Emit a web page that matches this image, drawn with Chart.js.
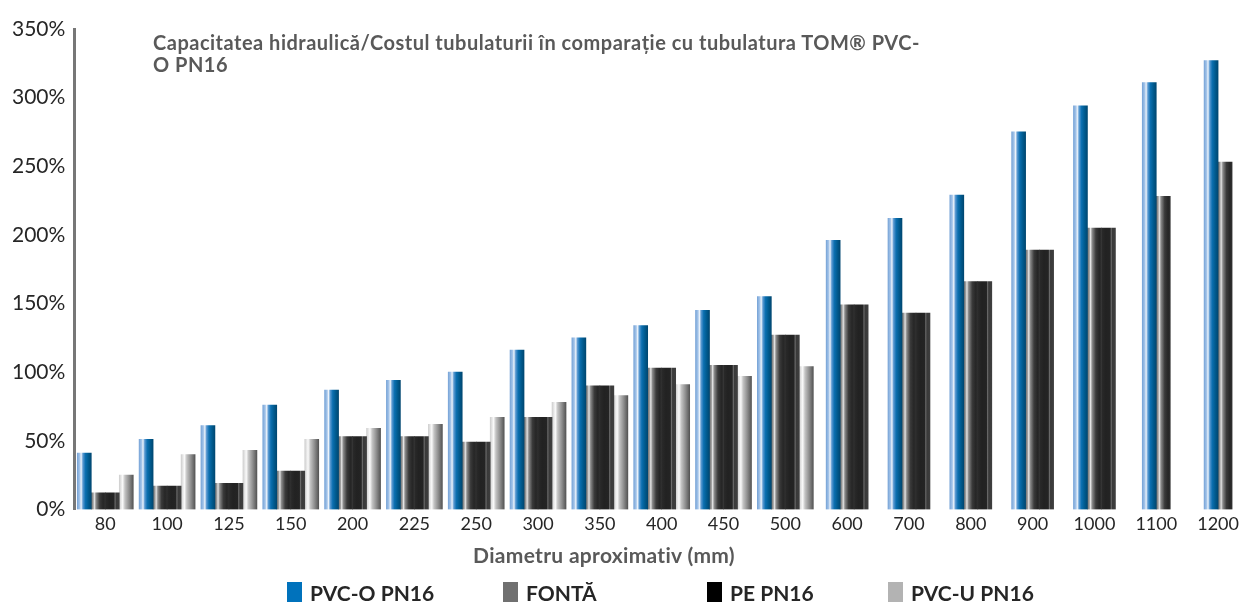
<!DOCTYPE html>
<html>
<head>
<meta charset="utf-8">
<script src="https://cdn.jsdelivr.net/npm/chart.js@4"></script>
<style>
  html, body { margin: 0; padding: 0; background: #fff; }
  #wrap { position: relative; width: 1251px; height: 602px; font-family: Lato, sans-serif; }
  #title {
    position: absolute; left: 153px; top: 31px;
    font-weight: bold; font-size: 20px; line-height: 22px; letter-spacing: 0.5px; color: #595959;
    white-space: nowrap;
  }
  #xtitle {
    position: absolute; left: 404px; width: 400px; top: 543px; text-align: center;
    font-weight: bold; font-size: 21px; line-height: 24px; letter-spacing: 0.3px; color: #595959;
  }
  #legend { position: absolute; left: 287px; top: 580px; display: flex; }
  .item { display: flex; align-items: center; font-weight: bold; font-size: 21px; color: #262626; }
  .item:nth-child(1) { width: 216px; }
  .item:nth-child(2) { width: 204px; }
  .item:nth-child(3) { width: 181px; }
  .box { width: 15px; height: 21px; margin-right: 8px; }
</style>
</head>
<body>
<div id="wrap">
  <canvas id="chart" width="1251" height="602"></canvas>
  <div id="title">Capacitatea hidraulică/Costul tubulaturii în comparație cu tubulatura TOM® PVC-<br>O PN16</div>
  <div id="xtitle">Diametru aproximativ (mm)</div>
  <div id="legend"></div>
</div>
<script>
// Diametru aproximativ (mm)
const categories = ['80', '100', '125', '150', '200', '225', '250', '300', '350', '400',
  '450', '500', '600', '700', '800', '900', '1000', '1100', '1200'];

// values in %
const pvcO = [41, 51, 61, 76, 87, 94, 100, 116, 125, 134, 145, 155, 196, 212, 229, 275, 294, 311, 327];
const fonta = [12, 17, 19, 28, 53, 53, 49, 67, 90, 103, 105, 127, 149, 143, 166, 189, 205, 228, 253];
const pePn16 = [12, 17, 19, 28, 53, 53, 49, 67, 90, 103, 105, 127, 149, 143, 166, 189, 205, null, null];
const pvcU = [25, 40, 43, 51, 59, 62, 67, 78, 83, 91, 97, 104, null, null, null, null, null, null, null];

const seriesNames = ['PVC-O PN16', 'FONTĂ', 'PE PN16', 'PVC-U PN16'];
const yTicks = [0, 50, 100, 150, 200, 250, 300, 350];

// flat colours for the legend, cylinder-like shading for the bars
const legendColors = ['#0072bc', '#707070', '#000000', '#b3b3b3'];
const shading = [
  [[0, '#79a5d8'], [0.18, '#a6c6ea'], [0.28, '#eef4fb'], [0.4, '#5c9ad2'], [0.58, '#0b6fb0'], [0.8, '#005a8e'], [1, '#004771']],
  [[0, '#6a6a6a'], [0.14, '#a0a0a0'], [0.22, '#e6e6e6'], [0.34, '#8a8a8a'], [0.6, '#3a3a3a'], [0.85, '#262626'], [1, '#303030']],
  [[0, '#2a2a2a'], [0.3, '#222222'], [0.62, '#242424'], [0.7, '#6c6c6c'], [0.78, '#3a3a3a'], [1, '#3e3e3e']],
  [[0, '#cfcfcf'], [0.14, '#e8e8e8'], [0.24, '#fafafa'], [0.4, '#c4c4c4'], [0.7, '#8e8e8e'], [1, '#555555']]
];

const barShading = {
  id: 'barShading',
  beforeDatasetsDraw(chart) {
    const ctx = chart.ctx;
    chart.data.datasets.forEach((ds, i) => {
      chart.getDatasetMeta(i).data.forEach(bar => {
        if (!isFinite(bar.x) || !isFinite(bar.width)) return;
        const half = bar.width / 2;
        const g = ctx.createLinearGradient(bar.x - half, 0, bar.x + half, 0);
        shading[i].forEach(([o, c]) => g.addColorStop(o, c));
        bar.options.backgroundColor = g;
      });
    });
  }
};

const seriesValues = [pvcO, fonta, pePn16, pvcU];

const chart = new Chart(document.getElementById('chart'), {
  type: 'bar',
  data: {
    labels: categories,
    datasets: seriesValues.map((values, i) => ({
      label: seriesNames[i],
      data: values,
      backgroundColor: () => legendColors[i],
      borderWidth: 0,
      barThickness: 14,
      skipNull: true
    }))
  },
  options: {
    responsive: false,
    animation: false,
    events: [],
    layout: { padding: { left: 3, right: 2, top: 29, bottom: 63 } },
    plugins: {
      legend: { display: false },
      tooltip: { enabled: false },
      title: { display: false }
    },
    scales: {
      x: {
        grid: { display: false, drawTicks: false },
        border: { display: false },
        ticks: {
          padding: 4,
          color: '#262626',
          font: { family: 'Lato', size: 18 }
        }
      },
      y: {
        min: 0,
        max: 350,
        afterBuildTicks: scale => { scale.ticks = yTicks.map(v => ({ value: v })); },
        grid: { display: false, drawTicks: false },
        border: { display: true, color: '#777777', width: 3 },
        ticks: {
          padding: 9,
          color: '#262626',
          font: { family: 'Lato', size: 21 },
          callback: v => v + '%'
        }
      }
    }
  },
  plugins: [barShading]
});

// legend built from the chart's datasets
const legend = document.getElementById('legend');
chart.data.datasets.forEach((ds, i) => {
  const item = document.createElement('div');
  item.className = 'item';
  const box = document.createElement('span');
  box.className = 'box';
  box.style.background = legendColors[i];
  item.appendChild(box);
  item.appendChild(document.createTextNode(ds.label));
  legend.appendChild(item);
});
</script>
</body>
</html>
